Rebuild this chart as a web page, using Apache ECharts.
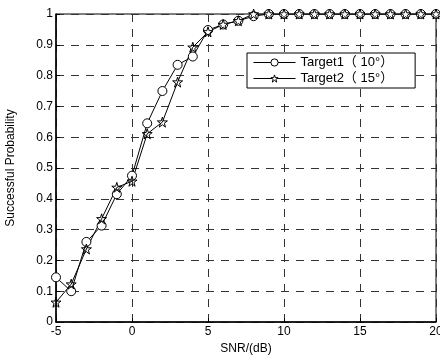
<!DOCTYPE html>
<html>
<head>
<meta charset="utf-8">
<script src="https://cdn.jsdelivr.net/npm/echarts@6/dist/echarts.min.js"></script>
<style>
html,body{margin:0;padding:0;background:#fff;}
#main{width:440px;height:358px;}
</style>
</head>
<body>
<div id="main"></div>
<script>
// SNR 取值 (dB)
var snr = [-5,-4,-3,-2,-1,0,1,2,3,4,5,6,7,8,9,10,11,12,13,14,15,16,17,18,19,20];
var target1 = [0.145,0.10,0.26,0.313,0.415,0.475,0.645,0.75,0.835,0.862,0.948,0.966,0.978,0.993,1,1,1,1,1,1,1,1,1,1,1,1];
var target2 = [0.064,0.123,0.237,0.335,0.437,0.457,0.611,0.649,0.779,0.892,0.942,0.966,0.978,1,1,1,1,1,1,1,1,1,1,1,1,1];
var names = ['Target1（ 10°）', 'Target2（ 15°）'];

var starPath = 'path://M50,0 L61.8,36.2 L100,36.2 L69.1,58.8 L80.9,95.1 L50,72.7 L19.1,95.1 L30.9,58.8 L0,36.2 L38.2,36.2 Z';
var font = "'Liberation Sans', Arial, 'Noto Sans CJK SC', sans-serif";

function pairs(ys) {
    return snr.map(function (x, i) { return [x, ys[i]]; });
}

var myChart = echarts.init(document.getElementById('main'));
var dash = {color: '#333', type: [8, 7], width: 1};

var option = {
    animation: false,
    backgroundColor: '#fff',
    textStyle: {fontFamily: font},
    grid: {left: 56, right: 4, top: 14, bottom: 36, show: true, borderColor: '#000', borderWidth: 1,
        outerBoundsMode: 'none'},
    legend: {
        left: 247, top: 53, orient: 'vertical',
        backgroundColor: '#fff',
        borderColor: '#000', borderWidth: 1,
        padding: [3, 22, 3, 6],
        itemWidth: 42, itemHeight: 9, itemGap: 3,
        textStyle: {fontSize: 13, color: '#000', fontFamily: font},
        itemStyle: {color: '#fff', borderColor: '#000', borderWidth: 1},
        lineStyle: {color: '#000', width: 1},
        data: names
    },
    xAxis: {
        type: 'value', min: -5, max: 20, interval: 5,
        name: 'SNR/(dB)', nameLocation: 'middle', nameGap: 19,
        nameTextStyle: {fontSize: 12, color: '#000'},
        axisLine: {onZero: false, lineStyle: {color: '#000', width: 1.5}},
        axisTick: {inside: true, length: 4, lineStyle: {color: '#000'}},
        axisLabel: {fontSize: 12, color: '#000', margin: 4},
        splitLine: {lineStyle: dash}
    },
    yAxis: {
        type: 'value', min: 0, max: 1, interval: 0.1,
        name: 'Successful Probability', nameLocation: 'middle', nameGap: 39,
        nameTextStyle: {fontSize: 12, color: '#000'},
        axisLine: {onZero: false, lineStyle: {color: '#000', width: 1.5}},
        axisTick: {inside: true, length: 4, lineStyle: {color: '#000'}},
        axisLabel: {fontSize: 12, color: '#000', margin: 3},
        splitLine: {lineStyle: dash}
    },
    series: [{
        name: names[0],
        type: 'line',
        data: pairs(target1),
        symbol: 'circle', symbolSize: 9,
        lineStyle: {color: '#000', width: 1},
        itemStyle: {color: '#fff', borderColor: '#000', borderWidth: 1}
    }, {
        name: names[1],
        type: 'line',
        data: pairs(target2),
        symbol: starPath, symbolSize: 10,
        lineStyle: {color: '#000', width: 1},
        itemStyle: {color: 'rgba(255,255,255,0)', borderColor: '#000', borderWidth: 1}
    }]
};
myChart.setOption(option);
</script>
</body>
</html>
